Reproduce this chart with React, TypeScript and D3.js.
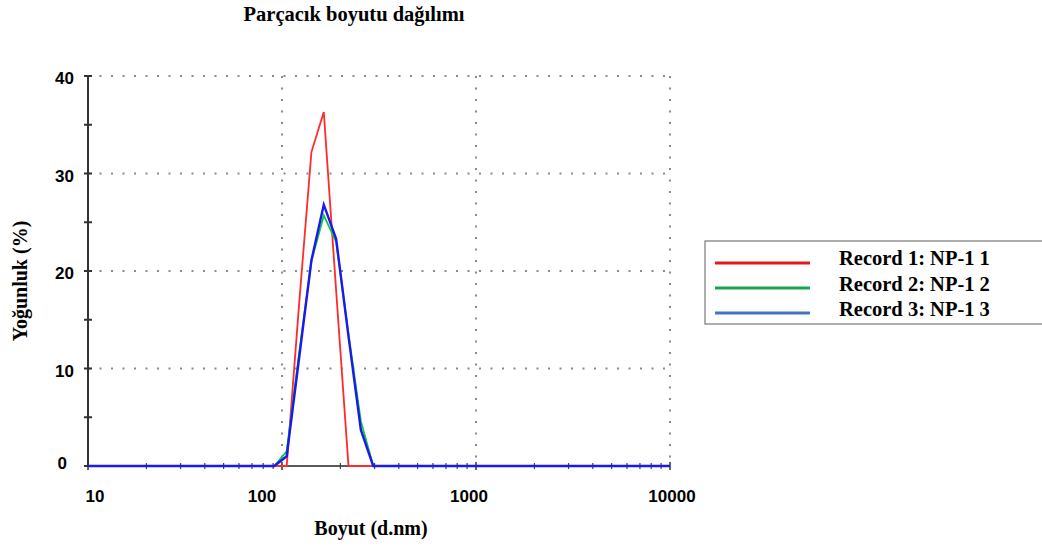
import React from "react";
import * as d3 from "d3";

const sizes = [10, 91.28, 105.7, 122.4, 141.8, 164.2, 190.1, 220.2, 255.0, 295.3, 342.0, 10000];
const record1 = [0, 0, 0, 16.5, 32.2, 36.3, 18, 0, 0, 0, 0, 0];
const record2 = [0, 0, 1.5, 11.5, 21, 25.7, 23, 13.5, 4.6, 0, 0, 0];
const record3 = [0, 0, 1.0, 11, 21.1, 26.8, 23.3, 13.3, 3.7, 0, 0, 0];
const seriesNames = ["Record 1: NP-1 1", "Record 2: NP-1 2", "Record 3: NP-1 3"];
const lineColors = ["#ff2a2a", "#10c840", "#1a1aee"];
const legendColors = ["#e31a1c", "#19a552", "#4472c4"];
const xTicks = [10, 100, 1000, 10000];
const yTicks = [0, 10, 20, 30, 40];
const yMinor = [0, 5, 10, 15, 20, 25, 30, 35, 40];

export default function App() {
  const W = 1042, H = 550;
  const x = d3.scaleLog().domain([10, 10000]).range([88, 670]);
  const y = d3.scaleLinear().domain([0, 40]).range([466, 76]);
  const line = d3.line<number>().x((_, i) => x(sizes[i])).y((v) => y(v));
  const minorX: number[] = [];
  [10, 100, 1000].forEach((dec) => {
    for (let k = 2; k <= 9; k++) minorX.push(dec * k);
  });
  const labelShift = [7, -20, -7, 2];
  const series = [record1, record2, record3];
  const serif = "'Liberation Serif', 'Times New Roman', serif";
  const sans = "'Liberation Sans', Arial, sans-serif";
  return (
    <svg width={W} height={H} style={{ position: "absolute", left: 0, top: 0, background: "#fff" }}>
      <text x={354} y={21} textAnchor="middle" fontFamily={serif} fontWeight="bold" fontSize={20.5}>
        Parçacık boyutu dağılımı
      </text>
      {/* grid */}
      {yTicks.filter((t) => t > 0).map((t) => (
        <line key={"gy" + t} x1={x(10)} x2={x(10000)} y1={y(t)} y2={y(t)} stroke="#8a8a8a" strokeWidth={2} strokeDasharray="2,9.5" />
      ))}
      {xTicks.filter((t) => t > 10).map((t) => (
        <line key={"gx" + t} x1={x(t)} x2={x(t)} y1={y(40)} y2={y(0)} stroke="#8a8a8a" strokeWidth={2} strokeDasharray="2,9.5" />
      ))}
      {/* axes */}
      <line x1={x(10)} x2={x(10)} y1={y(40)} y2={y(0)} stroke="#333" strokeWidth={2} />
      {yMinor.map((t) => (
        <line key={"yt" + t} x1={x(10) - 4} x2={x(10) + 4} y1={y(t)} y2={y(t)} stroke="#333" strokeWidth={2} />
      ))}
      <line x1={x(10)} x2={x(10000)} y1={y(0)} y2={y(0)} stroke="#222" strokeWidth={1.5} />
      {minorX.map((t) => (
        <line key={"xm" + t} x1={x(t)} x2={x(t)} y1={y(0) - 3} y2={y(0) + 3} stroke="#444" strokeWidth={1.2} />
      ))}
      {xTicks.map((t) => (
        <line key={"xt" + t} x1={x(t)} x2={x(t)} y1={y(0) - 4} y2={y(0) + 4} stroke="#333" strokeWidth={1.5} />
      ))}
      {yTicks.map((t) => (
        <text key={"yl" + t} x={t === 0 ? 67 : 74} y={y(t) + (t === 0 ? 3 : 8)} textAnchor="end" fontFamily={sans} fontWeight="bold" fontSize={17}>
          {t}
        </text>
      ))}
      {xTicks.map((t, i) => (
        <text key={"xl" + t} x={x(t) + labelShift[i]} y={502} textAnchor="middle" fontFamily={sans} fontWeight="bold" fontSize={17}>
          {t}
        </text>
      ))}
      {/* series */}
      {series.map((s, i) => (
        <path key={"s" + i} d={line(s) || ""} fill="none" stroke={lineColors[i]} strokeWidth={i === 2 ? 2.4 : 1.8} strokeLinejoin="miter" />
      ))}
      <text x={371} y={535} textAnchor="middle" fontFamily={serif} fontWeight="bold" fontSize={20}>
        Boyut (d.nm)
      </text>
      <text transform="translate(27,281) rotate(-90)" textAnchor="middle" fontFamily={serif} fontWeight="bold" fontSize={20}>
        Yoğunluk (%)
      </text>
      {/* legend */}
      <rect x={705} y={241} width={345} height={83} fill="#fff" stroke="#777" strokeWidth={1.2} />
      {seriesNames.map((n, i) => (
        <g key={"lg" + i}>
          <line x1={715} x2={810} y1={263 + i * 25} y2={263 + i * 25} stroke={legendColors[i]} strokeWidth={3} />
          <text x={839} y={265 + i * 25.5} fontFamily={serif} fontWeight="bold" fontSize={20.5}>
            {n}
          </text>
        </g>
      ))}
    </svg>
  );
}
